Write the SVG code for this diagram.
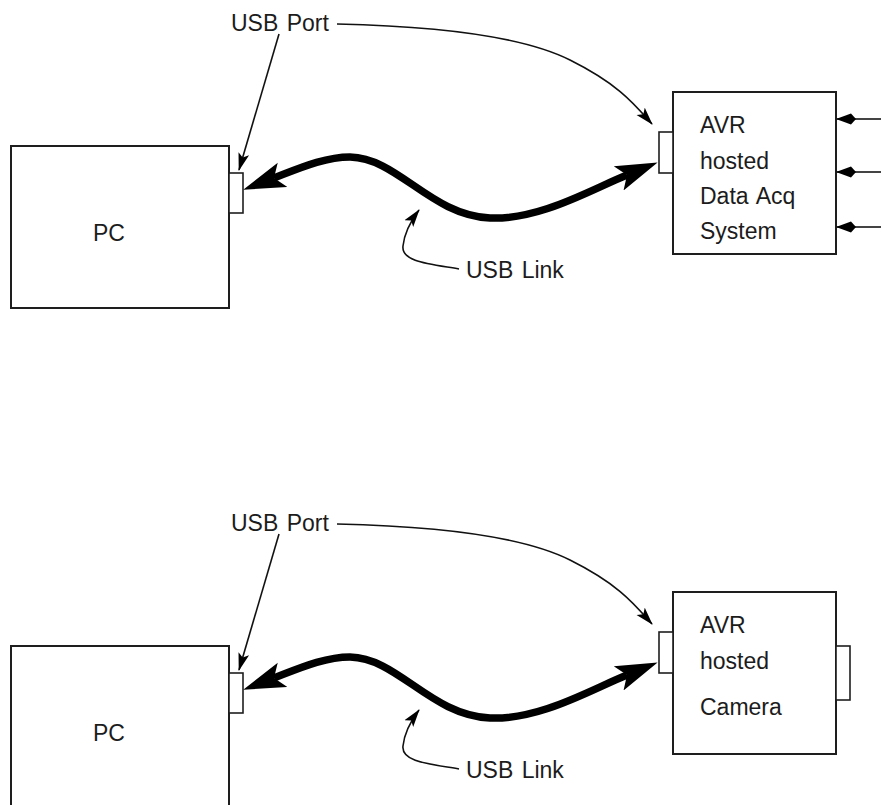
<svg xmlns="http://www.w3.org/2000/svg" width="881" height="805" viewBox="0 0 881 805">
<style>
.box{fill:#fff;stroke:#1e1e1e;stroke-width:2}
.port{fill:#fff;stroke:#1e1e1e;stroke-width:1.6}
.t{font-family:"Liberation Sans",Arial,Helvetica,sans-serif;font-size:23px;fill:#1c1c1c;word-spacing:2px}
.cable{fill:none;stroke:#000;stroke-width:7.5;marker-start:url(#big);marker-end:url(#big)}
.lead{fill:none;stroke:#111;stroke-width:1.6;marker-end:url(#small)}
.inp{fill:none;stroke:#444;stroke-width:2.2;marker-end:url(#inhead)}
</style>
<defs>
<marker id="big" markerUnits="userSpaceOnUse" viewBox="0 0 42 28" markerWidth="42" markerHeight="28" refX="9" refY="14" orient="auto-start-reverse">
<path d="M42,14 L0,1 L9,14 L0,27 Z" fill="#000"/>
</marker>
<marker id="small" markerUnits="userSpaceOnUse" viewBox="0 0 18 12" markerWidth="18" markerHeight="12" refX="17" refY="6" orient="auto">
<path d="M18,6 L0,0.5 L4,6 L0,11.5 Z" fill="#000"/>
</marker>
<marker id="inhead" markerUnits="userSpaceOnUse" viewBox="0 0 20 12" markerWidth="20" markerHeight="12" refX="19" refY="6" orient="auto">
<path d="M20,6 L5,0.5 L0,6 L5,11.5 Z" fill="#000"/>
</marker>
</defs>

<g id="pc-top">
<rect class="box" x="11" y="146" width="218" height="162"/>
<rect class="port" x="229" y="173" width="14" height="40"/>
<text class="t" x="93" y="241">PC</text>
</g>
<g id="avr-daq">
<rect class="box" x="673" y="92" width="163" height="162"/>
<rect class="port" x="659" y="132" width="14" height="41"/>
<text class="t" x="700" y="133">AVR</text>
<text class="t" x="700" y="169">hosted</text>
<text class="t" x="700" y="204">Data Acq</text>
<text class="t" x="700" y="239">System</text>
</g>
<g id="label-usbport-top"><text class="t" x="231" y="31">USB Port</text></g>
<g id="label-usblink-top"><text class="t" x="466" y="278">USB Link</text></g>

<g id="pc-bottom">
<path class="box" d="M11,806 V646 H229 V806"/>
<rect class="port" x="229" y="673" width="14" height="40"/>
<text class="t" x="93" y="741">PC</text>
</g>
<g id="avr-camera">
<rect class="box" x="673" y="592" width="163" height="162"/>
<rect class="port" x="659" y="632" width="14" height="41"/>
<rect class="port" x="836" y="646" width="14" height="54"/>
<text class="t" x="700" y="633">AVR</text>
<text class="t" x="700" y="669">hosted</text>
<text class="t" x="700" y="715">Camera</text>
</g>
<g id="label-usbport-bottom"><text class="t" x="231" y="531">USB Port</text></g>
<g id="label-usblink-bottom"><text class="t" x="466" y="778">USB Link</text></g>

<g id="connectors">
<path class="cable" d="M274,178 C300,168 325,157 350,157 C398,158 430,215 490,218 C540,220 590,190 627,175"/>
<path class="lead" d="M279,34 L239,170"/>
<path class="lead" d="M337,24 C430,26 520,35 570,60 S635,105 652,124"/>
<path class="lead" d="M459,269 C430,264 401,262 403,246 C404,236 410,222 419,210"/>
<path class="inp" d="M881,119 L837,119"/>
<path class="inp" d="M881,172 L837,172"/>
<path class="inp" d="M881,227 L837,227"/>

<path class="cable" d="M274,678 C300,668 325,657 350,657 C398,658 430,715 490,718 C540,720 590,690 627,675"/>
<path class="lead" d="M279,534 L239,670"/>
<path class="lead" d="M337,524 C430,526 520,535 570,560 S635,605 652,624"/>
<path class="lead" d="M459,769 C430,764 401,762 403,746 C404,736 410,722 419,710"/>
</g>
</svg>
